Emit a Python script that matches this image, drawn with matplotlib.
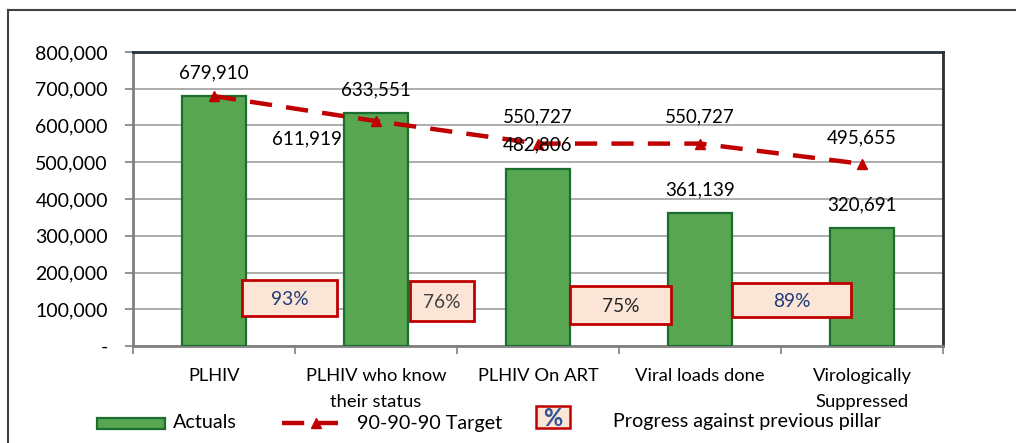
import matplotlib
matplotlib.use("Agg")
import matplotlib.pyplot as plt
from matplotlib.patches import Rectangle
from matplotlib.lines import Line2D
from matplotlib.ticker import FuncFormatter

# ---- data ----
categories = ["PLHIV", "PLHIV who know\ntheir status", "PLHIV On ART",
              "Viral loads done", "Virologically\nSuppressed"]
actuals = [679910, 633551, 482806, 361139, 320691]
target = [679910, 611919, 550727, 550727, 495655]
progress = ["93%", "76%", "75%", "89%"]
yticks = [0, 100000, 200000, 300000, 400000, 500000, 600000, 700000, 800000]

# ---- layout / style ----
FONT = "Lato"
plt.rcParams['font.family'] = [FONT, 'DejaVu Sans']
W, H = 1016, 443
fig = plt.figure(figsize=(W / 100, H / 100), dpi=100)

def fx(px):
    return px / W

def fy(py):
    return 1 - py / H

left, right, top, bottom = 133, 943, 52, 346
ax = fig.add_axes([fx(left), fy(bottom), fx(right - left), fy(top) - fy(bottom)])

x = list(range(len(categories)))
ax.bar(x, actuals, width=0.4, color="#58A552", edgecolor="#1B6E2E", linewidth=1.6, zorder=3)
ax.plot(x, target, color="#C00000", linewidth=3.2, dashes=(5, 3.2),
        marker="^", markersize=7.5, markerfacecolor="#C00000", markeredgecolor="#C00000", zorder=4)

ax.set_xlim(-0.5, len(categories) - 0.5)
ax.set_ylim(0, 800000)
ax.set_yticks(yticks)
ax.yaxis.set_major_formatter(FuncFormatter(lambda v, p: "-" if v == 0 else f"{int(v):,}"))
ax.grid(axis="y", color="#A6A6A6", linewidth=1.3, zorder=0)
ax.set_axisbelow(True)

# x ticks at category boundaries, labels at centres
ax.set_xticks([i + 0.5 for i in range(-1, len(categories))])
ax.set_xticklabels([])
ax.set_xticks(x, minor=True)
ax.set_xticklabels(categories, minor=True, fontsize=13.2, linespacing=1.72)
ax.tick_params(axis="x", which="minor", length=0, pad=16)
ax.tick_params(axis="x", which="major", length=6, width=1.2, color="#808080", direction="out")
ax.tick_params(axis="y", length=6, width=1.2, color="#808080", labelsize=14, pad=12)

ax.spines["left"].set_color("#808080")
ax.spines["left"].set_linewidth(2)
ax.spines["bottom"].set_color("#808080")
ax.spines["bottom"].set_linewidth(2)
ax.spines["top"].set_color("#262F3A")
ax.spines["top"].set_linewidth(2)
ax.spines["right"].set_color("#262F3A")
ax.spines["right"].set_linewidth(2)

# data labels for bars
for xi, v in zip(x, actuals):
    ax.annotate(f"{v:,}", (xi, v), xytext=(0, 17), textcoords="offset points",
                ha="center", va="center", fontsize=13.5, zorder=5)
# data labels for target (first coincides with bar label)
tgt_offsets = [None, (-50, -13), (0, 19), (0, 19), (0, 19)]
for xi, v, off in zip(x, target, tgt_offsets):
    if off is None:
        continue
    ax.annotate(f"{v:,}", (xi, v), xytext=off, textcoords="offset points",
                ha="center", va="center", fontsize=13.5, zorder=5)

# progress boxes (layout constants)
box_cx = [0.465, 1.405, 2.509, 3.566]
box_w = [0.586, 0.395, 0.629, 0.734]
box_cy = [130600, 122400, 111600, 125200]
box_h = [100000, 109000, 106000, 95000]
box_tc = ["#1F3A78", "#404040", "#262626", "#1F3A78"]
for cx, w, cy, h, txt, tc in zip(box_cx, box_w, box_cy, box_h, progress, box_tc):
    ax.add_patch(Rectangle((cx - w / 2, cy - h / 2), w, h, facecolor="#FBE5D6",
                           edgecolor="#C00000", linewidth=2, zorder=6))
    ax.text(cx, cy - 4000, txt, ha="center", va="center", fontsize=13.8, color=tc, zorder=7)

# ---- legend (manual) ----
fig.patches.append(Rectangle((fx(97), fy(429)), fx(68), fy(418) - fy(429),
                             transform=fig.transFigure, facecolor="#58A552",
                             edgecolor="#1B6E2E", linewidth=1.6))
fig.text(fx(173), fy(423), "Actuals", fontsize=14.2, va="center", ha="left")
fig.lines.append(Line2D([fx(282), fx(338)], [fy(423), fy(423)], transform=fig.transFigure,
                        color="#C00000", linewidth=3.2, dashes=(5, 3.2)))
fig.lines.append(Line2D([fx(316)], [fy(423)], transform=fig.transFigure, color="#C00000",
                        marker="^", markersize=7.5, linestyle="none"))
fig.text(fx(357), fy(423), "90-90-90 Target", fontsize=14.2, va="center", ha="left")
fig.patches.append(Rectangle((fx(536), fy(428)), fx(34), fy(406) - fy(428),
                             transform=fig.transFigure, facecolor="#FBE5D6",
                             edgecolor="#C00000", linewidth=1.8))
fig.text(fx(553), fy(418), "%", fontsize=17, fontweight="bold", color="#2F5597",
         va="center", ha="center")
fig.text(fx(613), fy(421), "Progress against previous pillar", fontsize=14.2,
         va="center", ha="left")

# outer frame (top and left edges)
fig.lines.append(Line2D([fx(8), 1.0], [fy(10), fy(10)], transform=fig.transFigure,
                        color="#404040", linewidth=1.5))
fig.lines.append(Line2D([fx(8), fx(8)], [fy(10), 0.0], transform=fig.transFigure,
                        color="#404040", linewidth=1.5))

fig.savefig("out.png", dpi=100, facecolor="white")
